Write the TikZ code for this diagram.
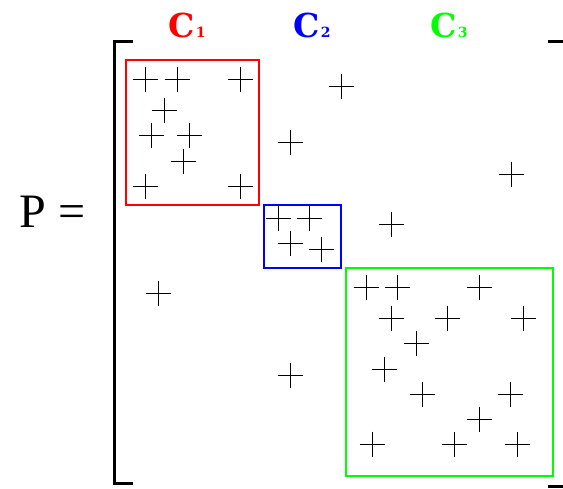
\documentclass[tikz,border=0pt]{standalone}
\usepackage{fontspec}
\setmainfont{Liberation Serif}
\newfontfamily\lblfont{DejaVu Serif}
\usetikzlibrary{positioning}
\definecolor{cred}{HTML}{FF0000}
\definecolor{cblue}{HTML}{0000FF}
\definecolor{cgreen}{HTML}{00FF00}
\newcommand{\clab}[1]{C\hspace{1.5pt}{\fontsize{14}{14}\selectfont #1}}
\tikzset{
  grp/.style={draw=#1, line width=2pt, minimum width=0pt, inner sep=0pt},
  brk/.style={line width=3pt, line cap=butt, line join=miter},
  crs/.style={line width=0.8pt, color=black},
  lbl/.style={font=\lblfont\fontsize{33}{33}\selectfont\bfseries, text=#1, inner sep=0pt, anchor=base west},
  eqn/.style={font=\fontsize{48}{48}\selectfont, inner sep=0pt, anchor=base west},
}
\begin{document}
\begin{tikzpicture}[x=1pt, y=-1pt]
  \useasboundingbox (0,0) rectangle (563,488);
  % cluster boxes
  \node[grp=cred, minimum width=133pt, minimum height=145pt] (c1) at (192.5,132.5) {};
  \node[grp=cblue, minimum width=77pt, minimum height=63pt] (c2) at (302.5,236.5) {};
  \node[grp=cgreen, minimum width=207pt, minimum height=208pt] (c3) at (449.5,372) {};
  % labels
  \node[lbl=cred] (l1) at (168,37) {\clab{1}};
  \node[lbl=cblue] (l2) at (293,37) {\clab{2}};
  \node[lbl=cgreen] (l3) at (430,37) {\clab{3}};
  \node[eqn] (p) at (19,227) {P};
  \node[eqn] (eq) at (58,227) {=};
  % brackets
  \draw[brk] (133,41) -- (114,41) -- (114,483) -- (133,483);
  \draw[brk] (548,41) -- (566,41);
  \draw[brk] (548,486) -- (566,486);
  % entries
  \foreach \p in {(145,79),(177,79),(240,79),(164,110),(151,135),(189,135),
      (183,161),(145,186),(240,186),
      (278,218),(309,218),(290,243),(321,249),
      (366,287),(397,287),(479,287),(391,318),(447,318),(523,318),(416,343),
      (384,369),(422,394),(510,394),(479,419),(372,444),(454,444),(517,444),
      (341,86),(290,142),(511,174),(391,224),(158,293),(290,375)}
    \draw[crs] \p ++(-12.5,0) -- ++(25,0) \p ++(0,-12.5) -- ++(0,25);
\end{tikzpicture}
\end{document}
